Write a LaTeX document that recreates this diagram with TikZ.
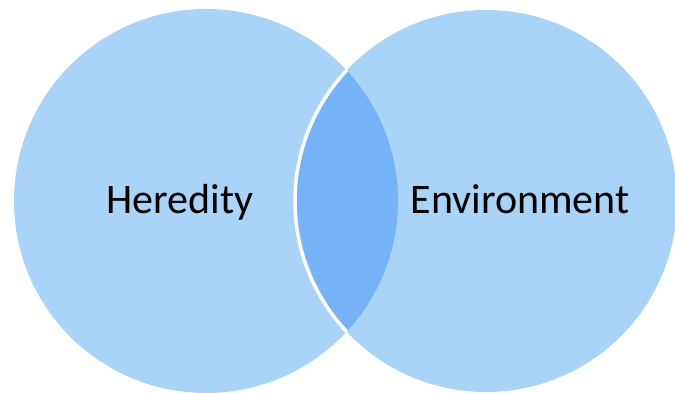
\documentclass[tikz,border=0pt]{standalone}
\usepackage{fontspec}
\setmainfont{Carlito}
\definecolor{lightblue}{RGB}{169,212,247}
\definecolor{lensblue}{RGB}{118,179,246}
\begin{document}
\begin{tikzpicture}[x=1pt,y=-1pt,
  label/.style={font=\fontsize{42}{50}\selectfont, text=black, inner sep=0pt}]
\useasboundingbox (0,0) rectangle (675,393);
\clip (0,0) rectangle (675,393);
\coordinate (cl) at (206,201);
\coordinate (cr) at (486,201);
\fill[lightblue] (cl) circle[radius=192];
\fill[lightblue] (cr) circle[radius=191];
\begin{scope}
  \clip (cl) circle[radius=192];
  \fill[lensblue] (cr) circle[radius=191];
  \draw[white, line width=3.5] (cr) circle[radius=191];
\end{scope}
\node[label, anchor=base] (her) at (180,214) {Heredity};
\node[label, anchor=base] (env) at (520,214) {Environment};
\end{tikzpicture}
\end{document}
